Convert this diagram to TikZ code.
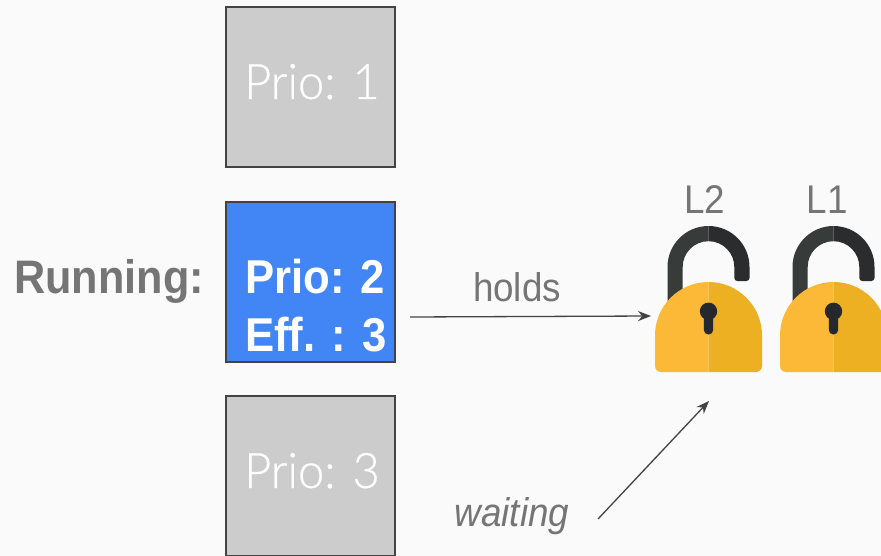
\documentclass[tikz,border=0pt]{standalone}
\usepackage{fontspec}
\setmainfont[FakeStretch=0.92]{Liberation Sans}
\newfontfamily\thinfont[FakeStretch=0.96,FakeBold=0.4]{Lato Light}
\usetikzlibrary{arrows}
\usetikzlibrary{arrows.meta}

\definecolor{pagebg}{HTML}{FAFAFA}
\definecolor{boxline}{HTML}{434343}
\definecolor{boxgray}{HTML}{CCCCCC}
\definecolor{boxblue}{HTML}{4285F4}
\definecolor{labelgray}{HTML}{757575}
\definecolor{lockleft}{HTML}{FBB937}
\definecolor{lockright}{HTML}{EDB022}
\definecolor{hoopleft}{HTML}{373B39}
\definecolor{hoopright}{HTML}{2A2C2E}
\definecolor{keyhole}{HTML}{25282D}

\tikzset{
    prio box/.style={draw=boxline, line width=1.6pt, minimum width=169pt, minimum height=160pt, inner sep=0pt},
    prio text/.style={text=white, anchor=base west, inner sep=0pt, font=\thinfont\fontsize{49}{49}\selectfont},
    run text/.style={prio text, font=\fontsize{47.5}{47.5}\selectfont\bfseries},
    side text/.style={text=labelgray, anchor=base, inner sep=0pt, font=\fontsize{40}{40}\selectfont},
    lock arrow/.style={draw=boxline, line width=1.3pt, -{Stealth[length=13pt,width=10pt]}}
}

\begin{document}
\begin{tikzpicture}[x=1pt,y=-1pt]
    \useasboundingbox (0,0) rectangle (881,556);
    \fill[pagebg] (0,0) rectangle (881,556);

    \node[prio box, fill=boxgray] (prioone) at (310.5,87) {};
    \node[prio box, fill=boxblue] (priotwo) at (310.5,282) {};
    \node[prio box, fill=boxgray] (priothree) at (310.5,476) {};

    \node[prio text] (prioonetext) at (244,99) {Prio: 1};
    \node[run text] (priotwotext) at (245,294) {Prio: 2};
    \node[run text] (efftext) at (245,351) {Eff. : 3};
    \node[prio text] (priothreetext) at (244,488) {Prio: 3};

    \node[side text, font=\fontsize{47}{47}\selectfont\bfseries, anchor=base west] (running) at (14,294) {Running:};
    \node[side text] (holds) at (517,301) {holds};
    \node[side text, font=\fontsize{40}{40}\itshape\selectfont] (waiting) at (512,526) {waiting};

    \foreach \lx in {708.5, 833.5} {
        % hoop
        \fill[hoopleft] (\lx-41,310) -- (\lx-41,267) arc (-180:-90:41) -- (\lx,241.2) arc (-90:-180:25.8) -- (\lx-25.8,310) -- cycle;
        \fill[hoopright] (\lx,226) arc (-90:0:41) -- (\lx+41,278) arc (0:90:3) -- (\lx+28.8,281) arc (90:180:3) -- (\lx+25.8,267) arc (0:-90:25.8) -- cycle;
        % body
        \fill[lockleft] (\lx,282) arc (-90:-180:53.5) -- (\lx-53.5,366) arc (180:90:6) -- (\lx,372) -- cycle;
        \fill[lockright] (\lx,282) arc (-90:0:53.5) -- (\lx+53.5,366) arc (0:90:6) -- (\lx,372) -- cycle;
        % hole
        \fill[keyhole] (\lx,311.3) circle (8.7);
        \fill[keyhole, rounded corners=4.6pt] (\lx-4.7,312) rectangle (\lx+4.7,334.5);
    }
    \node[side text] (ltwo) at (704.5,214) {L2};
    \node[side text] (lone) at (827,214) {L1};

    \coordinate (holdsstart) at (410,317);
    \coordinate (holdsend) at (651,316);
    \coordinate (waitstart) at (598,519);
    \coordinate (waitend) at (709,401);
    \draw[lock arrow] (holdsstart) -- (holdsend);
    \draw[lock arrow] (waitstart) -- (waitend);
\end{tikzpicture}
\end{document}
